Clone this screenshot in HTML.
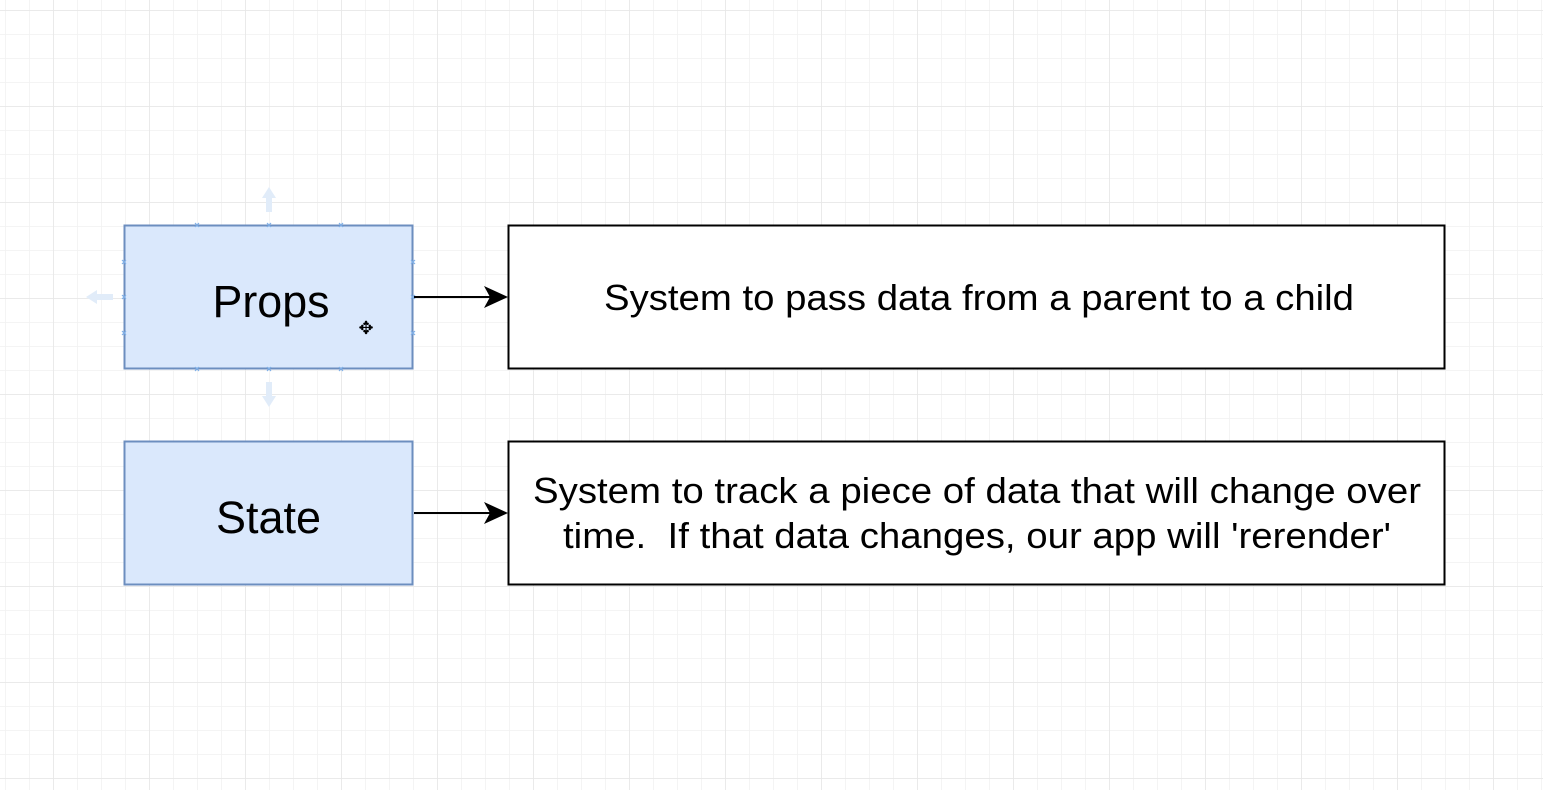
<!DOCTYPE html>
<html><head><meta charset="utf-8"><style>
html,body{margin:0;padding:0;background:#fff;}
svg{display:block;}
text{font-family:"Liberation Sans",Arial,sans-serif;fill:#000;}
</style></head><body>
<svg width="1543" height="790" viewBox="0 0 1543 790" xmlns="http://www.w3.org/2000/svg">
<defs>
<pattern id="minor" x="5" y="10" width="24" height="24" patternUnits="userSpaceOnUse">
<path d="M0 0H24M0 0V24" stroke="#f1f1f1" stroke-width="1.5" fill="none"/>
</pattern>
<pattern id="major" x="149" y="10" width="96" height="96" patternUnits="userSpaceOnUse">
<path d="M0 0H96M0 0V96" stroke="#e6e6e6" stroke-width="1.5" fill="none"/>
</pattern>
</defs>
<rect width="1543" height="790" fill="#fff"/>
<rect width="1543" height="790" fill="url(#minor)"/>
<rect width="1543" height="790" fill="url(#major)"/>

<!-- hover arrows around Props -->
<g fill="#e1ecf9">
<path d="M269 187 L262 198 L266 198 L266 212 L272 212 L272 198 L276 198 Z"/>
<path d="M269 407 L262 396 L266 396 L266 382 L272 382 L272 396 L276 396 Z"/>
<path d="M86 297 L97 290 L97 294 L113 294 L113 300 L97 300 L97 304 Z"/>
</g>

<rect x="124.5" y="225.5" width="288" height="143" fill="#dae8fc" stroke="#6c8ebf" stroke-width="2"/>
<rect x="124.5" y="441.5" width="288" height="143" fill="#dae8fc" stroke="#6c8ebf" stroke-width="2"/>
<g stroke="#7fb0e8" stroke-width="1.2">
<path d="M195 223l4 4M199 223l-4 4M267 223l4 4M271 223l-4 4M339 223l4 4M343 223l-4 4"/>
<path d="M195 367l4 4M199 367l-4 4M267 367l4 4M271 367l-4 4M339 367l4 4M343 367l-4 4"/>
<path d="M122 260l4 4M126 260l-4 4M122 295l4 4M126 295l-4 4M122 331l4 4M126 331l-4 4"/>
<path d="M411 260l4 4M415 260l-4 4M411 295l4 4M415 295l-4 4M411 331l4 4M415 331l-4 4"/>
</g>
<text x="271" y="317" font-size="45" text-anchor="middle" textLength="117" lengthAdjust="spacingAndGlyphs">Props</text>
<text x="268.5" y="533" font-size="45" text-anchor="middle" textLength="105" lengthAdjust="spacingAndGlyphs">State</text>
<text x="366" y="334" font-size="18" text-anchor="middle">✥</text>

<rect x="508.5" y="225.5" width="936" height="143" fill="#fff" stroke="#000" stroke-width="2"/>
<rect x="508.5" y="441.5" width="936" height="143" fill="#fff" stroke="#000" stroke-width="2"/>

<path d="M414 297H496" stroke="#000" stroke-width="2"/>
<path d="M508 297L484 286L490 297L484 308Z" fill="#000"/>
<path d="M414 513H496" stroke="#000" stroke-width="2"/>
<path d="M508 513L484 502L490 513L484 524Z" fill="#000"/>

<text x="604" y="310" font-size="36" textLength="750" lengthAdjust="spacingAndGlyphs">System to pass data from a parent to a child</text>
<text x="533" y="503" font-size="36" textLength="888" lengthAdjust="spacingAndGlyphs">System to track a piece of data that will change over</text>
<text x="563" y="548" font-size="36" textLength="828" lengthAdjust="spacingAndGlyphs" xml:space="preserve">time.  If that data changes, our app will 'rerender'</text>
</svg>
</body></html>
